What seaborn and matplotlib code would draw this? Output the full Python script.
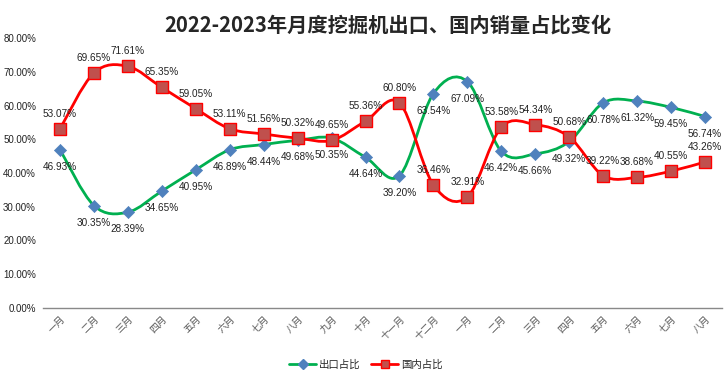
import numpy as np
import pandas as pd
import matplotlib
matplotlib.use("Agg")
import matplotlib.pyplot as plt
import seaborn as sns
from matplotlib.path import Path
from matplotlib.patches import PathPatch
from matplotlib.lines import Line2D
from matplotlib.ticker import PercentFormatter

# 数据
months = ['一月', '二月', '三月', '四月', '五月', '六月', '七月', '八月', '九月', '十月',
          '十一月', '十二月', '一月', '二月', '三月', '四月', '五月', '六月', '七月', '八月']
export_share = [46.93, 30.35, 28.39, 34.65, 40.95, 46.89, 48.44, 49.68, 50.35, 44.64,
                39.20, 63.54, 67.09, 46.42, 45.66, 49.32, 60.78, 61.32, 59.45, 56.74]
domestic_share = [53.07, 69.65, 71.61, 65.35, 59.05, 53.11, 51.56, 50.32, 49.65, 55.36,
                  60.80, 36.46, 32.91, 53.58, 54.34, 50.68, 39.22, 38.68, 40.55, 43.26]

sns.set_theme(style="white")
plt.rcParams['font.family'] = ['Liberation Sans', 'Noto Sans CJK SC']
plt.rcParams['axes.unicode_minus'] = False

fig = plt.figure(figsize=(7.28, 3.79), dpi=100)
ax = fig.add_axes([43 / 728, 1 - 308 / 379, 679 / 728, 270 / 379])

x = np.arange(len(months))


def smooth_path(xs, ys):
    # 类似 Excel 平滑线: Catmull-Rom 转 Bezier
    verts = [(xs[0], ys[0])]
    codes = [Path.MOVETO]
    n = len(xs)
    for i in range(n - 1):
        p0 = (xs[max(i - 1, 0)], ys[max(i - 1, 0)])
        p1 = (xs[i], ys[i])
        p2 = (xs[i + 1], ys[i + 1])
        p3 = (xs[min(i + 2, n - 1)], ys[min(i + 2, n - 1)])
        c1 = (p1[0] + (p2[0] - p0[0]) / 6, p1[1] + (p2[1] - p0[1]) / 6)
        c2 = (p2[0] - (p3[0] - p1[0]) / 6, p2[1] - (p3[1] - p1[1]) / 6)
        verts += [c1, c2, p2]
        codes += [Path.CURVE4] * 3
    return Path(verts, codes)


green = '#00B050'
red = '#FF0000'

df = pd.DataFrame({'x': x, 'export': export_share, 'domestic': domestic_share})

ax.add_patch(PathPatch(smooth_path(x, df['export'].values), facecolor='none',
                       edgecolor=green, lw=2, zorder=2))
ax.add_patch(PathPatch(smooth_path(x, df['domestic'].values), facecolor='none',
                       edgecolor=red, lw=2, zorder=2))

sns.scatterplot(data=df, x='x', y='export', marker='D', s=38, color='#4F81BD',
                edgecolor='#4F81BD', linewidth=0.5, ax=ax, zorder=3, legend=False)
sns.scatterplot(data=df, x='x', y='domestic', marker='s', s=70, color='#C0504D',
                edgecolor=red, linewidth=1, ax=ax, zorder=3, legend=False)

# 数据标签
for xi, v in zip(x, export_share):
    ax.annotate(f'{v:.2f}%', (xi, v), xytext=(0, -17), textcoords='offset pixels',
                ha='center', va='center', fontsize=7.2, color='#222222', zorder=4)
for xi, v in zip(x, domestic_share):
    ax.annotate(f'{v:.2f}%', (xi, v), xytext=(0, 15), textcoords='offset pixels',
                ha='center', va='center', fontsize=7.2, color='#222222', zorder=4)

ax.set_xlim(-0.5, len(months) - 0.5)
ax.set_ylim(0, 80)
ax.set_yticks(np.arange(0, 81, 10))
ax.yaxis.set_major_formatter(PercentFormatter(decimals=2))
ax.set_xticks(x)
ax.set_xticklabels(months, rotation=45, ha='right', rotation_mode='anchor',
                   fontsize=7, color='#595959')
ax.tick_params(axis='y', labelsize=7, colors='#222222', length=0, pad=5)
ax.tick_params(axis='x', length=0, pad=4)
ax.set_xlabel('')
ax.set_ylabel('')

for side in ['top', 'right', 'left']:
    ax.spines[side].set_visible(False)
ax.spines['bottom'].set_color('#898989')
ax.spines['bottom'].set_linewidth(1)

fig.text(388 / 728, 1 - 25 / 379, '2022-2023年月度挖掘机出口、国内销量占比变化',
         ha='center', va='center', fontsize=14.6, fontweight='bold',
         family=['Noto Sans CJK SC'])

handles = [
    Line2D([], [], color=green, lw=2, marker='D', markersize=5,
           markerfacecolor='#4F81BD', markeredgecolor='#4F81BD'),
    Line2D([], [], color=red, lw=2, marker='s', markersize=6,
           markerfacecolor='#C0504D', markeredgecolor=red),
]
fig.legend(handles, ['出口占比', '国内占比'], loc='center', bbox_to_anchor=(366 / 728, 1 - 365 / 379),
           ncol=2, frameon=False, fontsize=7.5, handlelength=2.6, columnspacing=1.0,
           handletextpad=0.3)

fig.savefig('out.png', dpi=100)
